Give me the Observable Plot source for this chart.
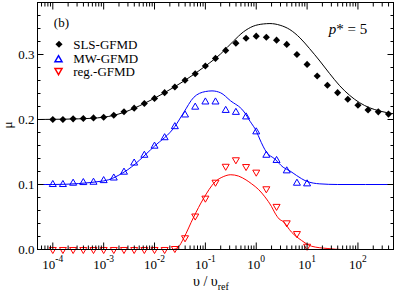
<!DOCTYPE html>
<html><head><meta charset="utf-8">
<script src="https://cdn.jsdelivr.net/npm/d3@7"></script>
<script src="https://cdn.jsdelivr.net/npm/@observablehq/plot@0.6"></script>
<style>
html,body{margin:0;padding:0;background:#fff;}
#chart svg{display:block;}
#chart svg, #chart svg text{font-family:"Liberation Serif","Times New Roman",serif !important;}
</style></head><body><div id="chart"></div>
<script>
// ---- data ----
const vPoints = [1.0e-4,1.58e-4,2.51e-4,3.98e-4,6.31e-4,
  1.0e-3,1.58e-3,2.51e-3,3.98e-3,6.31e-3,
  1.0e-2,1.58e-2,2.51e-2,3.98e-2,6.31e-2,
  0.1,0.158,0.251,0.398,0.631,
  1,1.58,2.51,3.98,6.31,
  10,15.8,25.1,39.8,63.1,
  100,158,251,398];
const slsMu = [0.200,0.200,0.201,0.2015,0.2025,0.2035,0.2066,0.212,0.2175,0.2247,
  0.2325,0.2413,0.2501,0.2603,0.2704,0.2822,0.2940,0.3063,0.3175,0.3251,
  0.3282,0.3266,0.3221,0.3155,0.300,0.2848,0.2669,0.2527,0.2413,0.2312,
  0.2220,0.2148,0.2118,0.2083];
const mwMu = [0.100,0.100,0.102,0.103,0.1035,0.106,0.110,0.119,0.133,0.145,
  0.159,0.172,0.189,0.207,0.219,0.227,0.227,0.214,0.211,0.204,
  0.181,0.145,0.137,0.121,0.102,0.101];
const regMu = [0,0,0,0,0,0,0,0,0,0,0,0,
  0.0015,0.018,0.0515,0.079,0.1035,0.128,0.138,0.1276,0.119,0.0934,0.0663,0.041,0.0245,0.005];

const slsLineV  = [5e-5,1e-4,3.16e-4,1e-3,2.51e-3,6.31e-3,0.0158,0.0398,0.1,0.2,0.355,0.56,0.87,1.38,1.86,2.95,4.57,7.24,11.2,17.8,27.5,43.7,69,107,170,269,500];
const slsLineMu = [0.200,0.2003,0.201,0.2035,0.211,0.2247,0.2413,0.2603,0.2822,0.301,0.3205,0.3348,0.3435,0.347,0.3476,0.345,0.3384,0.3256,0.309,0.29,0.271,0.252,0.237,0.226,0.218,0.213,0.2088];
const mwLineV   = [5e-5,1e-4,1e-3,2.51e-3,0.01,0.025,0.037,0.059,0.1,0.135,0.2,0.31,0.56,0.76,1.02,1.17,1.58,2.34,3.39,4.57,6.17,9.77,17.8,40,500];
const mwLineMu  = [0.1,0.1,0.1055,0.119,0.159,0.189,0.21,0.234,0.243,0.244,0.241,0.229,0.213,0.197,0.181,0.170,0.150,0.139,0.1265,0.121,0.114,0.105,0.101,0.1,0.1];
const regLineV  = [5e-5,0.0224,0.0295,0.0372,0.0589,0.0912,0.155,0.224,0.316,0.447,0.631,0.813,1.12,1.48,2.0,2.34,2.82,3.39,4.9,7.76,12.3,25.7,50,500];
const regLineMu = [0,0,0.004,0.017,0.05,0.078,0.104,0.112,0.115,0.113,0.107,0.101,0.092,0.081,0.066,0.056,0.047,0.043,0.027,0.014,0.005,0.0015,0,0];

const seriesNames = ["SLS-GFMD","MW-GFMD","reg.-GFMD"];
const seriesColors = ["#000000","#0000ff","#ff0000"];
const xMajorTicks = [1e-4,1e-3,1e-2,1e-1,1,10,100];
const xTickExponents = ["-4","-3","-2","-1","0","1","2"];
const yMajorTicks = [0,0.1,0.2,0.3];
const yTickLabels = ["0.0","0.1","0.2","0.3"];
const panelLabel = "(b)";
const paramSymbol = "p";
const paramRest = "* = 5";
const yAxisLabel = "μ";
const xAxisLabelMain = "υ / υ";
const xAxisLabelSub = "ref";

// ---- tables ----
const slsPts = vPoints.map((v,i)=>({v, mu: slsMu[i]}));
const mwPts = mwMu.map((mu,i)=>({v: vPoints[i], mu}));
const regPts = regMu.map((mu,i)=>({v: vPoints[i], mu}));
const slsLine = slsLineV.map((v,i)=>({v, mu: slsLineMu[i]}));
const mwLine = mwLineV.map((v,i)=>({v, mu: mwLineMu[i]}));
const regLine = regLineV.map((v,i)=>({v, mu: regLineMu[i]}));

const xDomain = [5e-5, 500];
const yDomain = [0, 0.38];
const xMinor = [];
for (let e = -5; e <= 2; e++) for (let m = 2; m <= 9; m++) {
  const t = m * Math.pow(10, e);
  if (t > xDomain[0]*1.0001 && t < xDomain[1]*0.9999) xMinor.push(t);
}
const yMinor = d3.range(1, 19).map(k => +(k*0.02).toFixed(2)).filter(t => Math.abs(t*10 - Math.round(t*10)) > 1e-6);

const legendDy = [41.7, 57.2, 68.1];
const legendTextDy = [42.1, 56.1, 69.8];
const serif = "'Liberation Serif', 'Times New Roman', serif";

const marks = [
  Plot.line(slsLine, {x:"v", y:"mu", stroke: seriesColors[0], strokeWidth:1, curve:"monotone-x"}),
  Plot.line(mwLine, {x:"v", y:"mu", stroke: seriesColors[1], strokeWidth:1, curve:"monotone-x"}),
  Plot.line(regLine, {x:"v", y:"mu", stroke: seriesColors[2], strokeWidth:1, curve:"monotone-x"}),
  Plot.dot(slsPts, {x:"v", y:"mu", symbol:"diamond2", r:3.2, fill: seriesColors[0], stroke:"none"}),
  Plot.dot(mwPts, {x:"v", y:"mu", symbol:"triangle", r:2.6, fill:"none", stroke: seriesColors[1], strokeWidth:1}),
  Plot.dot(regPts, {x:"v", y:"mu", symbol:"triangle", rotate:180, r:2.6, fill:"none", stroke: seriesColors[2], strokeWidth:1}),
  Plot.frame({stroke:"black", strokeWidth:1}),
  // inward ticks
  Plot.axisX(xMajorTicks, {anchor:"bottom", tickSize:-6.5, fill:"none", label:null}),
  Plot.axisX(xMinor, {anchor:"bottom", tickSize:-3.5, fill:"none", label:null}),
  Plot.axisX(xMajorTicks, {anchor:"top", tickSize:-6.5, fill:"none", label:null}),
  Plot.axisX(xMinor, {anchor:"top", tickSize:-3.5, fill:"none", label:null}),
  Plot.axisY(yMajorTicks, {anchor:"left", tickSize:-6.5, fill:"none", label:null}),
  Plot.axisY(yMinor, {anchor:"left", tickSize:-3.5, fill:"none", label:null}),
  Plot.axisY(yMajorTicks, {anchor:"right", tickSize:-6.5, fill:"none", label:null}),
  Plot.axisY(yMinor, {anchor:"right", tickSize:-3.5, fill:"none", label:null}),
  // tick labels
  Plot.axisX(xMajorTicks, {anchor:"bottom", tickSize:0, tickPadding:10, label:null, fontFamily: serif, fontSize: 13,
    tickFormat: d => "10^" + xTickExponents[xMajorTicks.indexOf(d)]}),
  Plot.axisY(yMajorTicks, {anchor:"left", tickSize:0, tickPadding:3, label:null, fontFamily: serif, fontSize: 13,
    tickFormat: d => yTickLabels[yMajorTicks.indexOf(d)]}),
  // annotations
  Plot.text([panelLabel], {frameAnchor:"top-left", dx:16.3, dy:20.8, textAnchor:"start", lineAnchor:"middle", fontSize:13, fontFamily: serif}),
  Plot.text([paramSymbol], {frameAnchor:"top-left", dx:291.3, dy:27, textAnchor:"start", lineAnchor:"middle", fontSize:15, fontStyle:"italic", fontFamily: serif}),
  Plot.text([paramRest], {frameAnchor:"top-left", dx:298.8, dy:27, textAnchor:"start", lineAnchor:"middle", fontSize:15, fontFamily: serif}),
  // legend
  Plot.dot([seriesNames[0]], {frameAnchor:"top-left", dx:21.5, dy:legendDy[0], symbol:"diamond2", r:3.2, fill:seriesColors[0]}),
  Plot.dot([seriesNames[1]], {frameAnchor:"top-left", dx:21, dy:legendDy[1], symbol:"triangle", r:2.6, fill:"none", stroke:seriesColors[1]}),
  Plot.dot([seriesNames[2]], {frameAnchor:"top-left", dx:21, dy:legendDy[2], symbol:"triangle", rotate:180, r:2.6, fill:"none", stroke:seriesColors[2]}),
  ...seriesNames.map((name,i) => Plot.text([name], {frameAnchor:"top-left", dx:35.7, dy:legendTextDy[i], textAnchor:"start", lineAnchor:"middle", fontSize:13, fontFamily: serif}))
];

const chart = Plot.plot({
  width: 395, height: 291,
  marginLeft: 37, marginRight: 2, marginTop: 2, marginBottom: 42,
  style: {fontFamily: serif, fontSize: "13px", background: "#fff", color: "#000"},
  x: {type:"log", domain: xDomain},
  y: {domain: yDomain},
  marks
});
document.getElementById("chart").appendChild(chart);

// superscript exponents on x tick labels
const svg = d3.select(chart);
svg.selectAll('g[aria-label="x-axis tick label"] text').each(function() {
  const t = d3.select(this);
  const s = t.text();
  const parts = s.split("^");
  if (parts.length === 2) {
    t.text("");
    t.append("tspan").text(parts[0]);
    t.append("tspan").attr("dy", -7).attr("font-size", 9.5).text(parts[1]);
  }
});
// axis titles
svg.append("text")
  .attr("transform", "translate(12,125) rotate(-90)")
  .attr("text-anchor", "middle")
  .attr("font-size", 13)
  .attr("font-family", serif)
  .text(yAxisLabel);
const xl = svg.append("text")
  .attr("x", 193).attr("y", 286)
  .attr("text-anchor", "start")
  .attr("font-size", 14)
  .attr("font-family", serif);
xl.append("tspan").text(xAxisLabelMain);
xl.append("tspan").attr("dy", 4).attr("font-size", 10).text(xAxisLabelSub);
</script></body></html>
